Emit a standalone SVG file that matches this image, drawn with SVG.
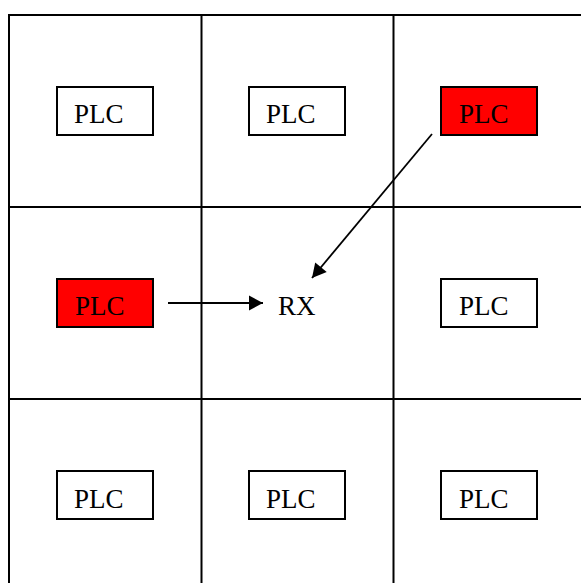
<svg xmlns="http://www.w3.org/2000/svg" width="581" height="583" viewBox="0 0 581 583">
<style>
.grid{stroke:#000;stroke-width:2;fill:none}
.box{stroke:#000;stroke-width:2;fill:#fff}
.red{fill:#ff0000}
.lbl{font-family:"Liberation Serif","Times New Roman",serif;font-size:27px;fill:#000}
.conn{stroke:#000;stroke-width:1.8;fill:none}
</style>
<defs>
<marker id="ah" markerUnits="userSpaceOnUse" markerWidth="16" markerHeight="16" viewBox="0 0 16 16" refX="15" refY="8" orient="auto">
<path d="M1,0.5 L15,8 L1,15.5 Z" fill="#000"/>
</marker>
</defs>
<rect width="581" height="583" fill="#fff"/>
<g id="grid" class="grid">
<line x1="9" y1="15" x2="581" y2="15"/>
<line x1="9" y1="207" x2="581" y2="207"/>
<line x1="9" y1="399" x2="581" y2="399"/>
<line x1="9" y1="14" x2="9" y2="583"/>
<line x1="201.5" y1="15" x2="201.5" y2="583"/>
<line x1="393.5" y1="15" x2="393.5" y2="583"/>
</g>
<g id="plc-1-1"><rect class="box" x="57" y="87" width="96" height="48"/><text class="lbl" x="74" y="123">PLC</text></g>
<g id="plc-1-2"><rect class="box" x="249" y="87" width="96" height="48"/><text class="lbl" x="266" y="123">PLC</text></g>
<g id="plc-1-3"><rect class="box red" x="441" y="87" width="96" height="48"/><text class="lbl" x="459" y="123">PLC</text></g>
<g id="plc-2-1"><rect class="box red" x="57" y="279" width="96" height="48"/><text class="lbl" x="75" y="315">PLC</text></g>
<g id="rx"><text class="lbl" x="278" y="315">RX</text></g>
<g id="plc-2-3"><rect class="box" x="441" y="279" width="96" height="48"/><text class="lbl" x="459" y="315">PLC</text></g>
<g id="plc-3-1"><rect class="box" x="57" y="471" width="96" height="48"/><text class="lbl" x="74" y="508">PLC</text></g>
<g id="plc-3-2"><rect class="box" x="249" y="471" width="96" height="48"/><text class="lbl" x="266" y="508">PLC</text></g>
<g id="plc-3-3"><rect class="box" x="441" y="471" width="96" height="48"/><text class="lbl" x="459" y="508">PLC</text></g>
<g id="connectors" class="conn">
<line x1="168" y1="303" x2="263" y2="303" marker-end="url(#ah)"/>
<line x1="432" y1="134" x2="312" y2="278" marker-end="url(#ah)"/>
</g>
</svg>
